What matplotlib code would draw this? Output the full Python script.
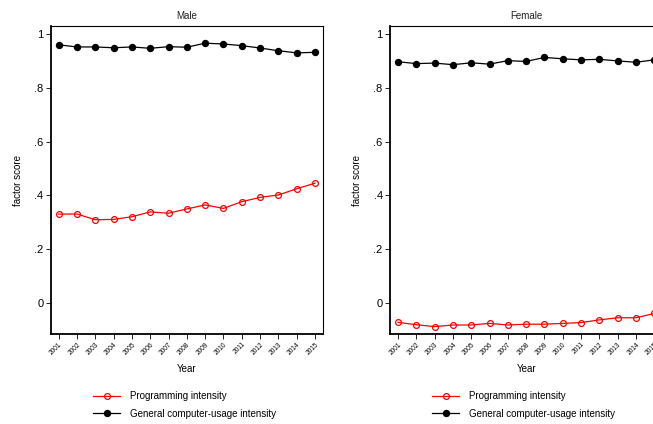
import matplotlib
matplotlib.use("Agg")
import matplotlib.pyplot as plt

plt.rcParams['font.family'] = ['Liberation Sans', 'DejaVu Sans']

years = list(range(2001, 2016))
male_prog = [0.330, 0.330, 0.309, 0.310, 0.320, 0.338, 0.333, 0.349, 0.364, 0.351,
             0.376, 0.392, 0.401, 0.424, 0.445]
male_gen = [0.960, 0.952, 0.952, 0.949, 0.952, 0.947, 0.953, 0.951, 0.966, 0.963,
            0.957, 0.948, 0.938, 0.930, 0.932]
female_prog = [-0.073, -0.082, -0.089, -0.083, -0.083, -0.077, -0.083, -0.080, -0.080, -0.077,
               -0.074, -0.064, -0.056, -0.056, -0.040]
female_gen = [0.897, 0.890, 0.892, 0.886, 0.893, 0.888, 0.901, 0.898, 0.913, 0.908,
              0.904, 0.906, 0.900, 0.895, 0.904]
yticks = [0, 0.2, 0.4, 0.6, 0.8, 1.0]
ytick_labels = ["0", ".2", ".4", ".6", ".8", "1"]
titles = ["Male", "Female"]
prog_label = "Programming intensity"
gen_label = "General computer-usage intensity"

W, H = 653, 424
fig = plt.figure(figsize=(W / 100, H / 100), dpi=100)

ax_w = 272 / W
ax_h = (334 - 26) / H
bottom = 1 - 334 / H
lefts = [51 / W, 390.3 / W]
legend_x = [93 / W, 432 / W]

panels = [(male_prog, male_gen), (female_prog, female_gen)]

for i, (prog, gen) in enumerate(panels):
    ax = fig.add_axes([lefts[i], bottom, ax_w, ax_h])
    lp, = ax.plot(years, prog, color='red', linewidth=0.9, marker='o',
                  markersize=4.2, markerfacecolor='none', markeredgecolor='red',
                  markeredgewidth=0.9)
    lg, = ax.plot(years, gen, color='black', linewidth=0.9, marker='o',
                  markersize=4.3, markerfacecolor='black', markeredgecolor='black')
    ax.set_xlim(2000.58, 2015.44)
    ax.set_ylim(-0.1165, 1.03)
    ax.set_yticks(yticks)
    ax.set_yticklabels(ytick_labels, fontsize=8)
    ax.set_xticks(years)
    ax.set_xticklabels([str(y) for y in years], fontsize=4.7, rotation=45,
                       ha='right', va='top', rotation_mode='anchor')
    ax.tick_params(axis='both', direction='out', length=3.5, width=0.6, pad=2)
    ax.tick_params(axis='x', pad=1.5)
    ax.set_title(titles[i], fontsize=7, pad=5, color='#222222')
    ax.set_xlabel("Year", fontsize=7, labelpad=6)
    ax.set_ylabel("factor score", fontsize=7, labelpad=8)
    for s in ['left', 'bottom']:
        ax.spines[s].set_linewidth(1.3)
    for s in ['top', 'right']:
        ax.spines[s].set_linewidth(0.8)
    ax.legend([lp, lg], [prog_label, gen_label], loc='center left',
              bbox_to_anchor=(legend_x[i], 1 - 405 / H),
              bbox_transform=fig.transFigure, frameon=False, fontsize=7,
              handlelength=2.8, handletextpad=1.0, labelspacing=0.75,
              borderpad=0, borderaxespad=0)

fig.savefig("out.png", dpi=100)
